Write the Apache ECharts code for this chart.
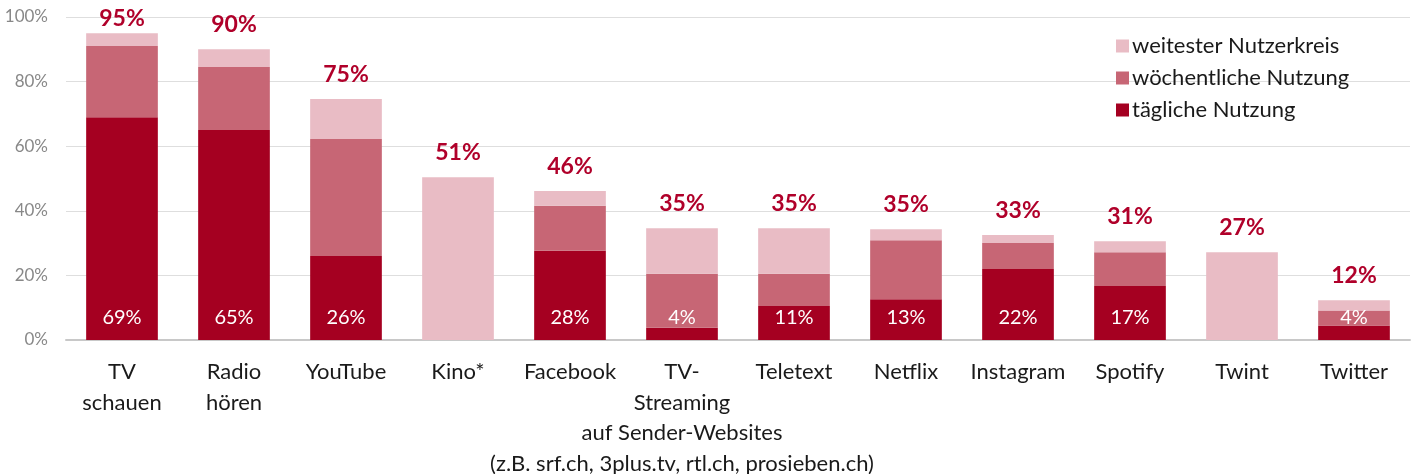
<!DOCTYPE html>
<html>
<head>
<meta charset="utf-8">
<script src="https://cdn.jsdelivr.net/npm/echarts@6/dist/echarts.min.js"></script>
<style>
html,body{margin:0;padding:0;background:#fff;}
#chart{width:1412px;height:474px;}
</style>
</head>
<body>
<div id="chart"></div>
<script>
var categories = ['TV\nschauen', 'Radio\nhören', 'YouTube', 'Kino*', 'Facebook',
    'TV-\nStreaming\nauf Sender-Websites\n(z.B. srf.ch, 3plus.tv, rtl.ch, prosieben.ch)',
    'Teletext', 'Netflix', 'Instagram', 'Spotify', 'Twint', 'Twitter'];
var daily   = [69, 65, 26, 0, 27.6, 3.8, 10.5, 12.6, 22, 16.7, 0, 4.5];
var weekly  = [22, 19.5, 36.2, 0, 14, 16.7, 10, 18.3, 8, 10.5, 0, 4.6];
var widest  = [4, 5.5, 12.4, 50.4, 4.5, 14.1, 14.1, 3.4, 2.5, 3.4, 27.2, 3.2];
var totalLabels = ['95%', '90%', '75%', '51%', '46%', '35%', '35%', '35%', '33%', '31%', '27%', '12%'];
var innerLabels = ['69%', '65%', '26%', '', '28%', '4%', '11%', '13%', '22%', '17%', '', '4%'];
var yTicks = [0, 20, 40, 60, 80, 100];

var font = 'Lato, "Open Sans", sans-serif';

// first label is squeezed against the top edge in the original
var widestData = widest.map(function (v, i) {
    return i === 0 ? {value: v, label: {distance: 3}} : v;
});

var option = {
    animation: false,
    textStyle: {fontFamily: font},
    legend: {
        orient: 'vertical',
        left: 1111,
        top: 30,
        itemWidth: 13,
        itemHeight: 13,
        itemGap: 10,
        icon: 'rect',
        textStyle: {fontSize: 22, color: '#1a1a1a', fontFamily: font, padding: [0, 0, 0, -2]},
        data: ['weitester Nutzerkreis', 'wöchentliche Nutzung', 'tägliche Nutzung']
    },
    grid: {left: 66, right: 2, top: 17, bottom: 134, outerBoundsMode: 'none'},
    xAxis: {
        type: 'category',
        data: categories,
        axisLine: {show: true, lineStyle: {color: '#c8c8c8', width: 2}},
        axisTick: {show: false},
        axisLabel: {
            color: '#1a1a1a',
            fontSize: 22,
            lineHeight: 30.5,
            margin: 17,
            interval: 0,
            fontFamily: font
        }
    },
    yAxis: {
        type: 'value',
        min: 0,
        max: 100,
        interval: 20,
        axisLine: {show: false},
        axisTick: {show: false},
        splitLine: {lineStyle: {color: '#dedede', width: 1}},
        axisLabel: {
            color: '#888',
            fontSize: 17,
            margin: 18,
            fontFamily: font,
            formatter: function (v) { return yTicks.indexOf(v) >= 0 ? v + '%' : ''; }
        }
    },
    series: [{
        name: 'tägliche Nutzung',
        type: 'bar',
        stack: 'a',
        barWidth: '64%',
        itemStyle: {color: '#a50021'},
        label: {
            show: true,
            position: 'insideBottom',
            distance: 12,
            color: '#fff',
            fontSize: 20,
            fontFamily: font,
            formatter: function (p) { return innerLabels[p.dataIndex]; }
        },
        data: daily
    }, {
        name: 'wöchentliche Nutzung',
        type: 'bar',
        stack: 'a',
        itemStyle: {color: '#c76675'},
        data: weekly
    }, {
        name: 'weitester Nutzerkreis',
        type: 'bar',
        stack: 'a',
        itemStyle: {color: '#e9bcc5'},
        label: {
            show: true,
            position: 'top',
            distance: 13,
            color: '#b0002a',
            fontSize: 23,
            fontWeight: 'bold',
            fontFamily: font,
            formatter: function (p) { return totalLabels[p.dataIndex]; }
        },
        data: widestData
    }]
};

var myChart = echarts.init(document.getElementById('chart'));
myChart.setOption(option);
</script>
</body>
</html>
